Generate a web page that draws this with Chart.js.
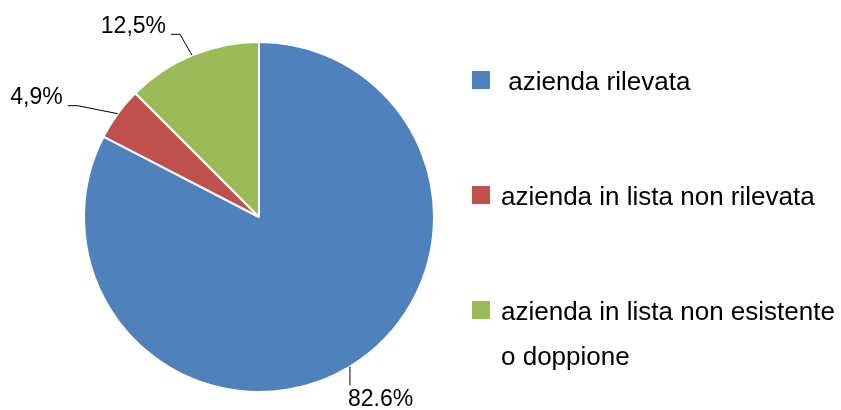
<!DOCTYPE html>
<html>
<head>
<meta charset="utf-8">
<script src="https://cdn.jsdelivr.net/npm/chart.js@4"></script>
<style>
  html, body { margin: 0; padding: 0; background: #fff; }
  #wrap { width: 841px; height: 410px; }
</style>
</head>
<body>
<div id="wrap"><canvas id="pieChart"></canvas></div>
<script>
// dati
const categories = [' azienda rilevata', 'azienda in lista non rilevata', ['azienda in lista non esistente', 'o doppione']];
const values = [82.6, 4.9, 12.5];
const valueLabels = ['82.6%', '4,9%', '12,5%'];
const colors = ['#4F81BD', '#C0504D', '#9BBB59'];

// etichette con linee guida (stile Excel)
const leaderLabels = {
    id: 'leaderLabels',
    afterDatasetsDraw(chart) {
        const ctx = chart.ctx;
        const arcs = chart.getDatasetMeta(0).data;
        // elbow / end offsets from the edge point, per slice
        const guides = [
            { pts: [[0, 19]], align: 'left', dx: -2, dy: 14 },
            { pts: [[-40, -8], [-50, -8]], align: 'right', dx: -5, dy: -8 },
            { pts: [[-12, -21], [-21, -21]], align: 'right', dx: -5, dy: -8 }
        ];
        ctx.save();
        ctx.strokeStyle = '#000';
        ctx.lineWidth = 1;
        ctx.font = '23px "Liberation Sans", Arial, sans-serif';
        ctx.fillStyle = '#000';
        arcs.forEach((arc, i) => {
            const mid = (arc.startAngle + arc.endAngle) / 2;
            const px = arc.x + Math.cos(mid) * arc.outerRadius;
            const py = arc.y + Math.sin(mid) * arc.outerRadius;
            const g = guides[i];
            ctx.beginPath();
            ctx.moveTo(px, py);
            g.pts.forEach(p => ctx.lineTo(px + p[0], py + p[1]));
            ctx.stroke();
            const last = g.pts[g.pts.length - 1];
            ctx.textAlign = g.align;
            ctx.textBaseline = 'middle';
            ctx.fillText(valueLabels[i], px + last[0] + g.dx, py + last[1] + g.dy);
        });
        ctx.restore();
    }
};

// legenda a destra
const sideLegend = {
    id: 'sideLegend',
    afterDraw(chart) {
        const ctx = chart.ctx;
        const x0 = 472, y0 = 80, step = 115, lineH = 45;
        ctx.save();
        ctx.font = '26px "Liberation Sans", Arial, sans-serif';
        ctx.textAlign = 'left';
        ctx.textBaseline = 'alphabetic';
        categories.forEach((label, i) => {
            const cy = y0 + i * step;
            ctx.fillStyle = colors[i];
            ctx.fillRect(x0, cy - 9, 18, 18);
            ctx.fillStyle = '#000';
            const lines = Array.isArray(label) ? label : [label];
            lines.forEach((t, j) => ctx.fillText(t, x0 + 29, cy + 10 + j * lineH));
        });
        ctx.restore();
    }
};

const ctx = document.getElementById('pieChart').getContext('2d');
new Chart(ctx, {
    type: 'pie',
    data: {
        labels: categories,
        datasets: [{
            data: values,
            backgroundColor: colors,
            borderColor: '#fff',
            borderWidth: 2
        }]
    },
    options: {
        responsive: true,
        maintainAspectRatio: false,
        animation: false,
        layout: { padding: { left: 83, right: 406, top: 41, bottom: 17 } },
        plugins: {
            legend: { display: false },
            tooltip: { enabled: false }
        }
    },
    plugins: [leaderLabels, sideLegend]
});
</script>
</body>
</html>
